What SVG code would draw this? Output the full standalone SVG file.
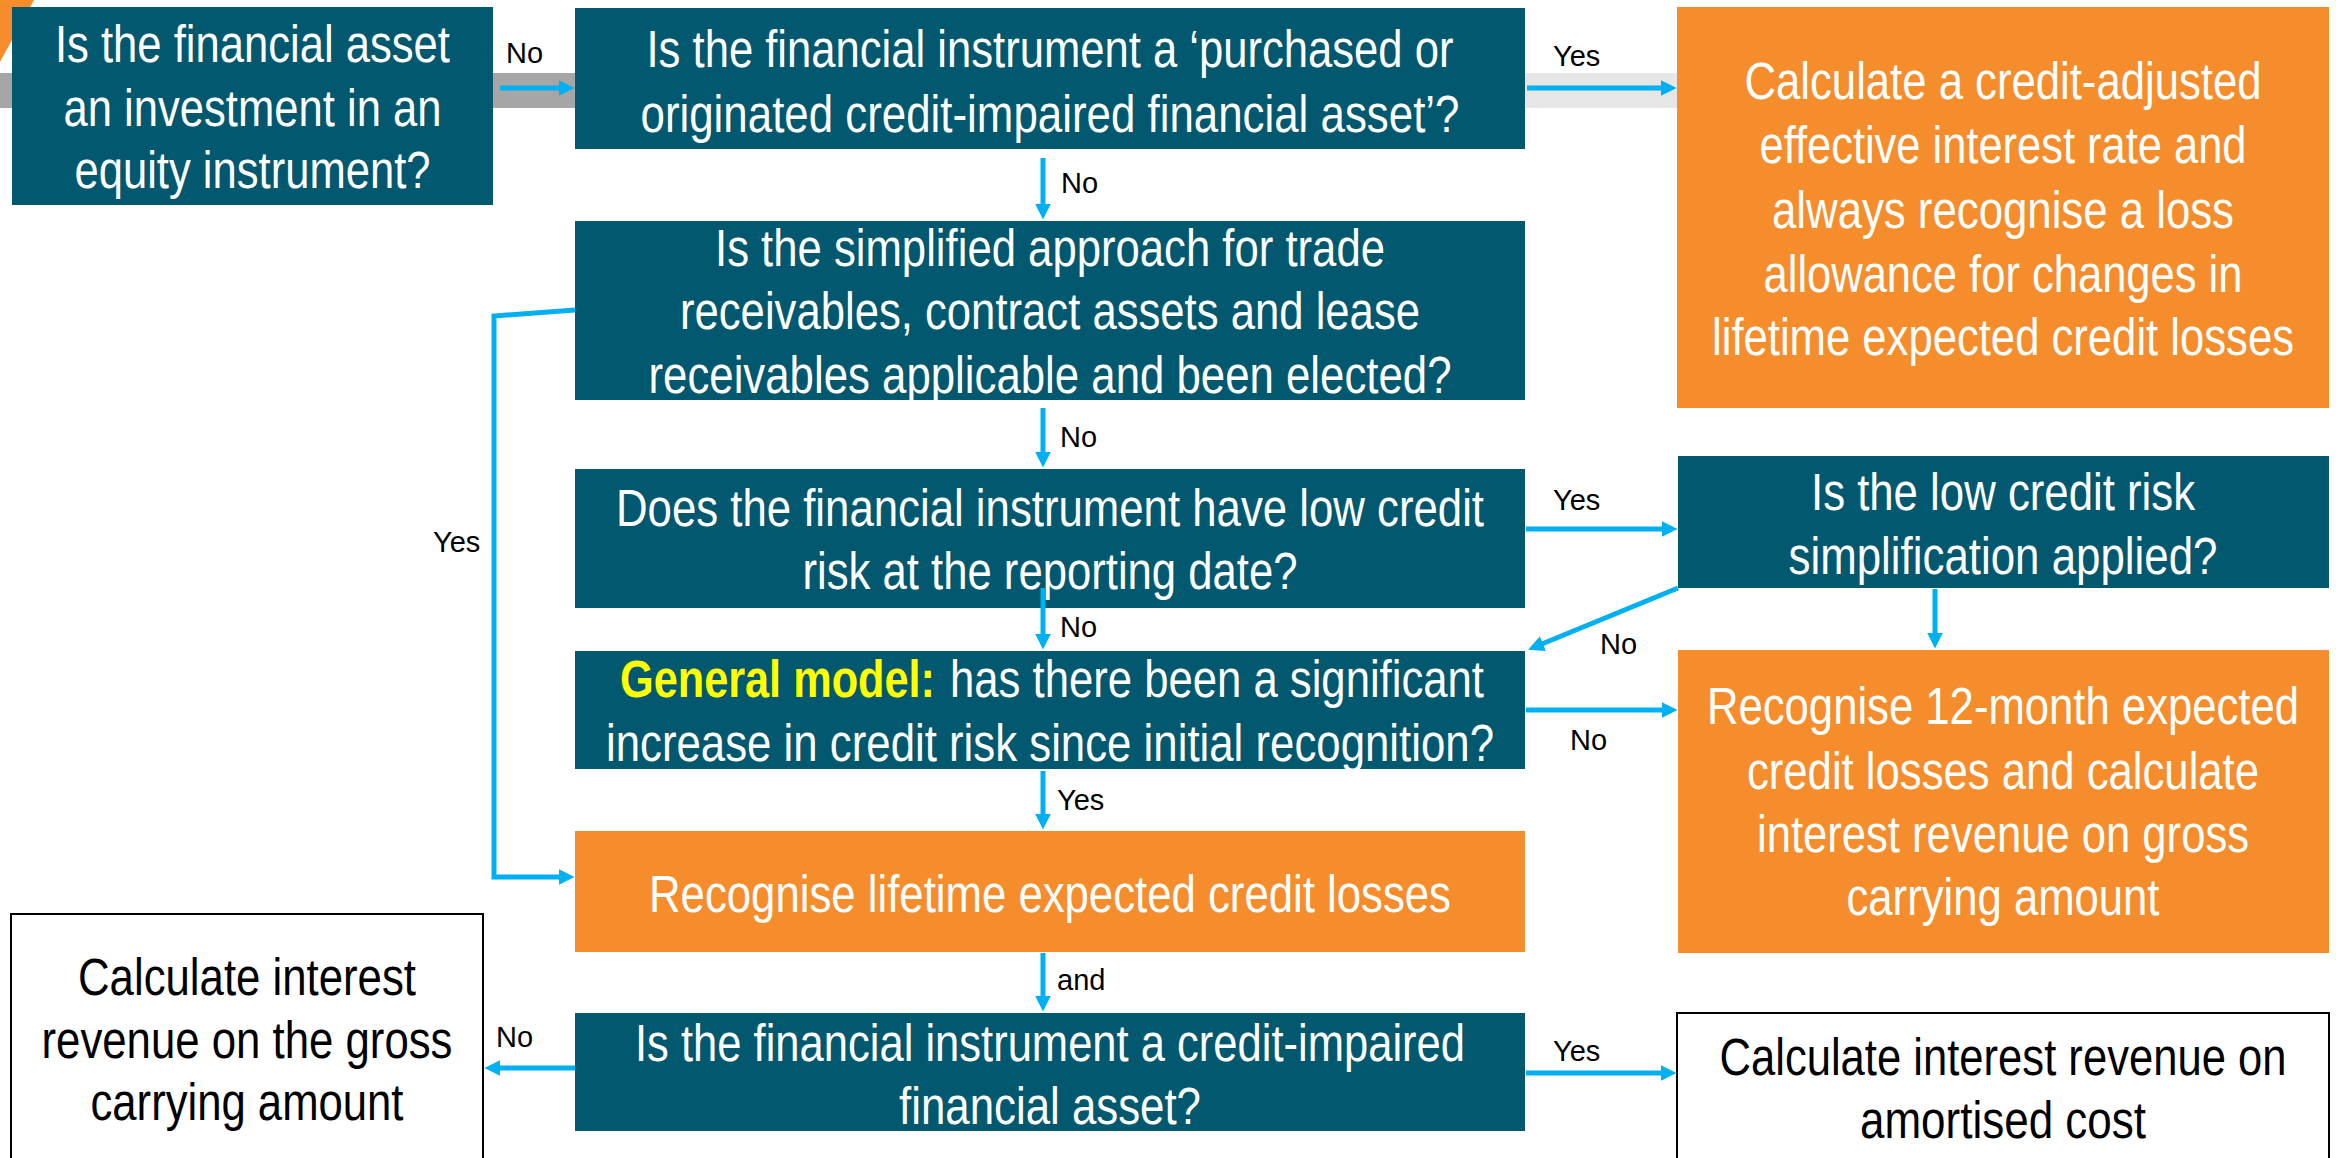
<svg xmlns="http://www.w3.org/2000/svg" width="2336" height="1158" viewBox="0 0 2336 1158">
<style>
.dk{fill:#02586F}
.or{fill:#F68D2D}
.wh{fill:#FFFFFF;stroke:#000000;stroke-width:2}
.t{font-family:"Liberation Sans",Arial,sans-serif;font-size:51px;fill:#FFFFFF;text-anchor:middle}
.tb{fill:#000000}
.lb{font-family:"Liberation Sans",Arial,sans-serif;font-size:29px;fill:#000000}
.cn{fill:none;stroke:#00B0F0;stroke-width:5;marker-end:url(#ah)}
</style>
<defs>
<marker id="ah" viewBox="0 0 10 10" refX="4" refY="5" markerWidth="16" markerHeight="16" markerUnits="userSpaceOnUse" orient="auto">
<path d="M0,0 L10,5 L0,10 z" fill="#00B0F0"/>
</marker>
</defs>
<rect x="0" y="0" width="2336" height="1158" fill="#FFFFFF"/>
<g id="decor">
<polygon points="0,0 34,0 0,62" fill="#F68D2D"/>
<rect x="0" y="73" width="14" height="35" fill="#A6A6A6"/>
<rect x="493" y="73" width="82" height="35" fill="#A6A6A6"/>
<rect x="1525" y="73" width="152" height="35" fill="#E6E6E6"/>
</g>
<g id="n1">
<rect class="dk" x="12" y="7" width="481" height="198"/>
<g transform="translate(252.5,0) scale(0.85,1) translate(-252.5,0)">
<text class="t" x="252.5" y="62" textLength="464.7" lengthAdjust="spacingAndGlyphs">Is the financial asset</text>
<text class="t" x="252.5" y="126" textLength="444.7" lengthAdjust="spacingAndGlyphs">an investment in an</text>
<text class="t" x="252.5" y="188" textLength="418.8" lengthAdjust="spacingAndGlyphs">equity instrument?</text>
</g>
</g>
<g id="n2">
<rect class="dk" x="575" y="8" width="950" height="141"/>
<g transform="translate(1050,0) scale(0.85,1) translate(-1050,0)">
<text class="t" x="1050" y="67" textLength="949.4" lengthAdjust="spacingAndGlyphs">Is the financial instrument a ‘purchased or</text>
<text class="t" x="1050" y="132" textLength="963.5" lengthAdjust="spacingAndGlyphs">originated credit-impaired financial asset’?</text>
</g>
</g>
<g id="n3">
<rect class="or" x="1677" y="7" width="652" height="401"/>
<g transform="translate(2003,0) scale(0.85,1) translate(-2003,0)">
<text class="t" x="2003" y="99" textLength="608.2" lengthAdjust="spacingAndGlyphs">Calculate a credit-adjusted</text>
<text class="t" x="2003" y="163" textLength="572.9" lengthAdjust="spacingAndGlyphs">effective interest rate and</text>
<text class="t" x="2003" y="228" textLength="543.5" lengthAdjust="spacingAndGlyphs">always recognise a loss</text>
<text class="t" x="2003" y="292" textLength="563.5" lengthAdjust="spacingAndGlyphs">allowance for changes in</text>
<text class="t" x="2003" y="355" textLength="684.7" lengthAdjust="spacingAndGlyphs">lifetime expected credit losses</text>
</g>
</g>
<g id="n4">
<rect class="dk" x="575" y="221" width="950" height="179"/>
<g transform="translate(1050,0) scale(0.85,1) translate(-1050,0)">
<text class="t" x="1050" y="266" textLength="788.2" lengthAdjust="spacingAndGlyphs">Is the simplified approach for trade</text>
<text class="t" x="1050" y="329" textLength="870.6" lengthAdjust="spacingAndGlyphs">receivables, contract assets and lease</text>
<text class="t" x="1050" y="393" textLength="944.7" lengthAdjust="spacingAndGlyphs">receivables applicable and been elected?</text>
</g>
</g>
<g id="n5">
<rect class="dk" x="575" y="469" width="950" height="139"/>
<g transform="translate(1050,0) scale(0.85,1) translate(-1050,0)">
<text class="t" x="1050" y="526" textLength="1021.2" lengthAdjust="spacingAndGlyphs">Does the financial instrument have low credit</text>
<text class="t" x="1050" y="589" textLength="582.4" lengthAdjust="spacingAndGlyphs">risk at the reporting date?</text>
</g>
</g>
<g id="n6">
<rect class="dk" x="1678" y="456" width="651" height="132"/>
<g transform="translate(2003,0) scale(0.85,1) translate(-2003,0)">
<text class="t" x="2003" y="510" textLength="451.8" lengthAdjust="spacingAndGlyphs">Is the low credit risk</text>
<text class="t" x="2003" y="574" textLength="504.7" lengthAdjust="spacingAndGlyphs">simplification applied?</text>
</g>
</g>
<g id="n7">
<rect class="dk" x="575" y="651" width="950" height="118"/>
<g transform="translate(620,0) scale(0.85,1) translate(-620,0)">
<text class="t" x="620" y="697" style="text-anchor:start;font-weight:bold;fill:#FFFF00" textLength="370.6" lengthAdjust="spacingAndGlyphs">General model:</text>
</g>
<g transform="translate(950,0) scale(0.85,1) translate(-950,0)">
<text class="t" x="950" y="697" style="text-anchor:start" textLength="628.2" lengthAdjust="spacingAndGlyphs">has there been a significant</text>
</g>
<g transform="translate(1050,0) scale(0.85,1) translate(-1050,0)">
<text class="t" x="1050" y="761" textLength="1044.7" lengthAdjust="spacingAndGlyphs">increase in credit risk since initial recognition?</text>
</g>
</g>
<g id="n8">
<rect class="or" x="1678" y="650" width="651" height="303"/>
<g transform="translate(2003,0) scale(0.85,1) translate(-2003,0)">
<text class="t" x="2003" y="724" textLength="696.5" lengthAdjust="spacingAndGlyphs">Recognise 12-month expected</text>
<text class="t" x="2003" y="789" textLength="602.4" lengthAdjust="spacingAndGlyphs">credit losses and calculate</text>
<text class="t" x="2003" y="852" textLength="578.8" lengthAdjust="spacingAndGlyphs">interest revenue on gross</text>
<text class="t" x="2003" y="915" textLength="368.2" lengthAdjust="spacingAndGlyphs">carrying amount</text>
</g>
</g>
<g id="n9">
<rect class="or" x="575" y="831" width="950" height="121"/>
<g transform="translate(1050,0) scale(0.85,1) translate(-1050,0)">
<text class="t" x="1050" y="912" textLength="943.5" lengthAdjust="spacingAndGlyphs">Recognise lifetime expected credit losses</text>
</g>
</g>
<g id="n10">
<rect class="dk" x="575" y="1013" width="950" height="118"/>
<g transform="translate(1050,0) scale(0.85,1) translate(-1050,0)">
<text class="t" x="1050" y="1061" textLength="976.5" lengthAdjust="spacingAndGlyphs">Is the financial instrument a credit-impaired</text>
<text class="t" x="1050" y="1124" textLength="355.3" lengthAdjust="spacingAndGlyphs">financial asset?</text>
</g>
</g>
<g id="n11">
<rect class="wh" x="11" y="914" width="472" height="260"/>
<g transform="translate(247,0) scale(0.85,1) translate(-247,0)">
<text class="t tb" x="247" y="995" textLength="397.6" lengthAdjust="spacingAndGlyphs">Calculate interest</text>
<text class="t tb" x="247" y="1058" textLength="483.5" lengthAdjust="spacingAndGlyphs">revenue on the gross</text>
<text class="t tb" x="247" y="1120" textLength="368.2" lengthAdjust="spacingAndGlyphs">carrying amount</text>
</g>
</g>
<g id="n12">
<rect class="wh" x="1677" y="1013" width="652" height="160"/>
<g transform="translate(2003,0) scale(0.85,1) translate(-2003,0)">
<text class="t tb" x="2003" y="1075" textLength="667.1" lengthAdjust="spacingAndGlyphs">Calculate interest revenue on</text>
<text class="t tb" x="2003" y="1138" textLength="336.5" lengthAdjust="spacingAndGlyphs">amortised cost</text>
</g>
</g>
<g id="connectors">
<line class="cn" x1="500" y1="88" x2="565" y2="88"/>
<line class="cn" x1="1527" y1="88" x2="1667" y2="88"/>
<line class="cn" x1="1043" y1="158" x2="1043" y2="210"/>
<polyline class="cn" points="575,310 494,316 494,877 565,877"/>
<line class="cn" x1="1043" y1="408" x2="1043" y2="458"/>
<line class="cn" x1="1526" y1="529" x2="1668" y2="529"/>
<line class="cn" x1="1043" y1="588" x2="1043" y2="640"/>
<line class="cn" x1="1678" y1="588" x2="1537" y2="646"/>
<line class="cn" x1="1935" y1="589" x2="1935" y2="639"/>
<line class="cn" x1="1526" y1="710" x2="1668" y2="710"/>
<line class="cn" x1="1043" y1="771" x2="1043" y2="820"/>
<line class="cn" x1="1043" y1="953" x2="1043" y2="1002"/>
<line class="cn" x1="575" y1="1068" x2="494" y2="1068"/>
<line class="cn" x1="1526" y1="1073" x2="1667" y2="1073"/>
<text class="lb" x="506" y="63">No</text>
<text class="lb" x="1553" y="66">Yes</text>
<text class="lb" x="1061" y="193">No</text>
<text class="lb" x="433" y="552">Yes</text>
<text class="lb" x="1060" y="447">No</text>
<text class="lb" x="1060" y="637">No</text>
<text class="lb" x="1553" y="510">Yes</text>
<text class="lb" x="1600" y="654">No</text>
<text class="lb" x="1570" y="750">No</text>
<text class="lb" x="1057" y="810">Yes</text>
<text class="lb" x="1057" y="990">and</text>
<text class="lb" x="496" y="1047">No</text>
<text class="lb" x="1553" y="1061">Yes</text>
</g>
</svg>
